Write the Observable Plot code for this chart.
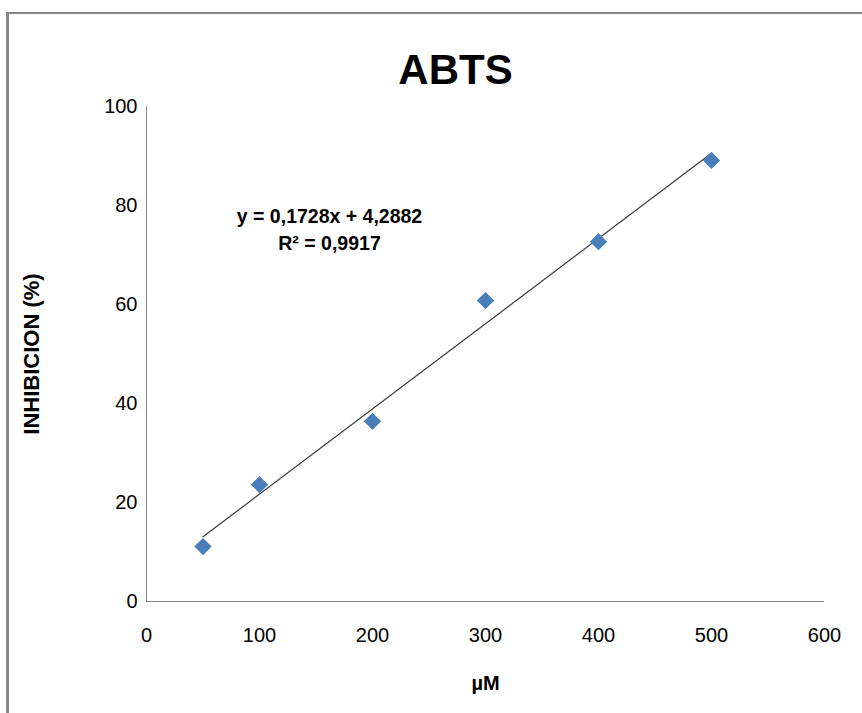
<!DOCTYPE html>
<html>
<head>
<meta charset="utf-8">
<script src="https://cdn.jsdelivr.net/npm/d3@7"></script>
<script src="https://cdn.jsdelivr.net/npm/@observablehq/plot@0.6"></script>
<style>
  html, body { margin: 0; padding: 0; background: #fff; }
  #wrap { position: relative; width: 862px; height: 713px; overflow: hidden; }
  #border { position: absolute; left: 6px; top: 12px; width: 900px; height: 800px;
            border-left: 3px solid #888; border-top: 2px solid #888; box-sizing: border-box; }
  #chart { position: absolute; left: 0; top: 0; }
  svg { font-family: "Liberation Sans", Arial, sans-serif; }
</style>
</head>
<body>
<div id="wrap"><div id="border"></div><div id="chart"></div></div>
<script>
const concentrations = [50, 100, 200, 300, 400, 500];
const inhibition = [11.1, 23.6, 36.4, 60.8, 72.7, 89.1];
const xTicks = [0, 100, 200, 300, 400, 500, 600];
const yTicks = [0, 20, 40, 60, 80, 100];
const title = "ABTS";
const xLabel = "µM";
const yLabel = "INHIBICION (%)";
const equationLines = ["y = 0,1728x + 4,2882", "R² = 0,9917"];

const data = concentrations.map((c, i) => ({x: c, y: inhibition[i]}));

const chart = Plot.plot({
  width: 862,
  height: 713,
  marginLeft: 146,
  marginRight: 38,
  marginTop: 106,
  marginBottom: 112,
  style: {fontFamily: "'Liberation Sans', Arial, sans-serif", background: "transparent"},
  x: {domain: [0, 600], ticks: xTicks, tickSize: 0, label: null},
  y: {domain: [0, 100], ticks: yTicks, tickSize: 0, label: null},
  marks: [
    Plot.axisX({ticks: xTicks, tickSize: 0, tickPadding: 26, fontSize: 20, fill: "#000", label: null}),
    Plot.axisY({ticks: yTicks, tickSize: 0, tickPadding: 9, fontSize: 20, fill: "#000", label: null}),
    Plot.ruleY([0], {stroke: "#868686", strokeWidth: 1}),
    Plot.ruleX([0], {stroke: "#868686", strokeWidth: 1}),
    Plot.linearRegressionY(data, {x: "x", y: "y", stroke: "#3a3a3a", strokeWidth: 1.2, ci: 0}),
    Plot.dot(data, {x: "x", y: "y", symbol: "diamond2", r: 7.8, fill: "#4A7EBB", stroke: "none"}),
    Plot.text([title], {frameAnchor: "top", lineAnchor: "middle", dx: -30, dy: -36, fontSize: 42, fontWeight: "bold", fill: "#000"}),
    Plot.text([xLabel], {frameAnchor: "bottom", lineAnchor: "middle", dy: 82, fontSize: 20, fontWeight: "bold", fill: "#000"}),
    Plot.text([yLabel], {frameAnchor: "left", textAnchor: "middle", lineAnchor: "middle", dx: -115, rotate: -90, fontSize: 22, fontWeight: "bold", fill: "#000"}),
    Plot.text([equationLines.join("\n")], {frameAnchor: "top-left", lineAnchor: "middle", dx: 183, dy: 121, lineHeight: 1.42, fontSize: 19.5, fontWeight: "bold", fill: "#000", textAnchor: "middle"})
  ]
});
document.getElementById("chart").appendChild(chart);
</script>
</body>
</html>
